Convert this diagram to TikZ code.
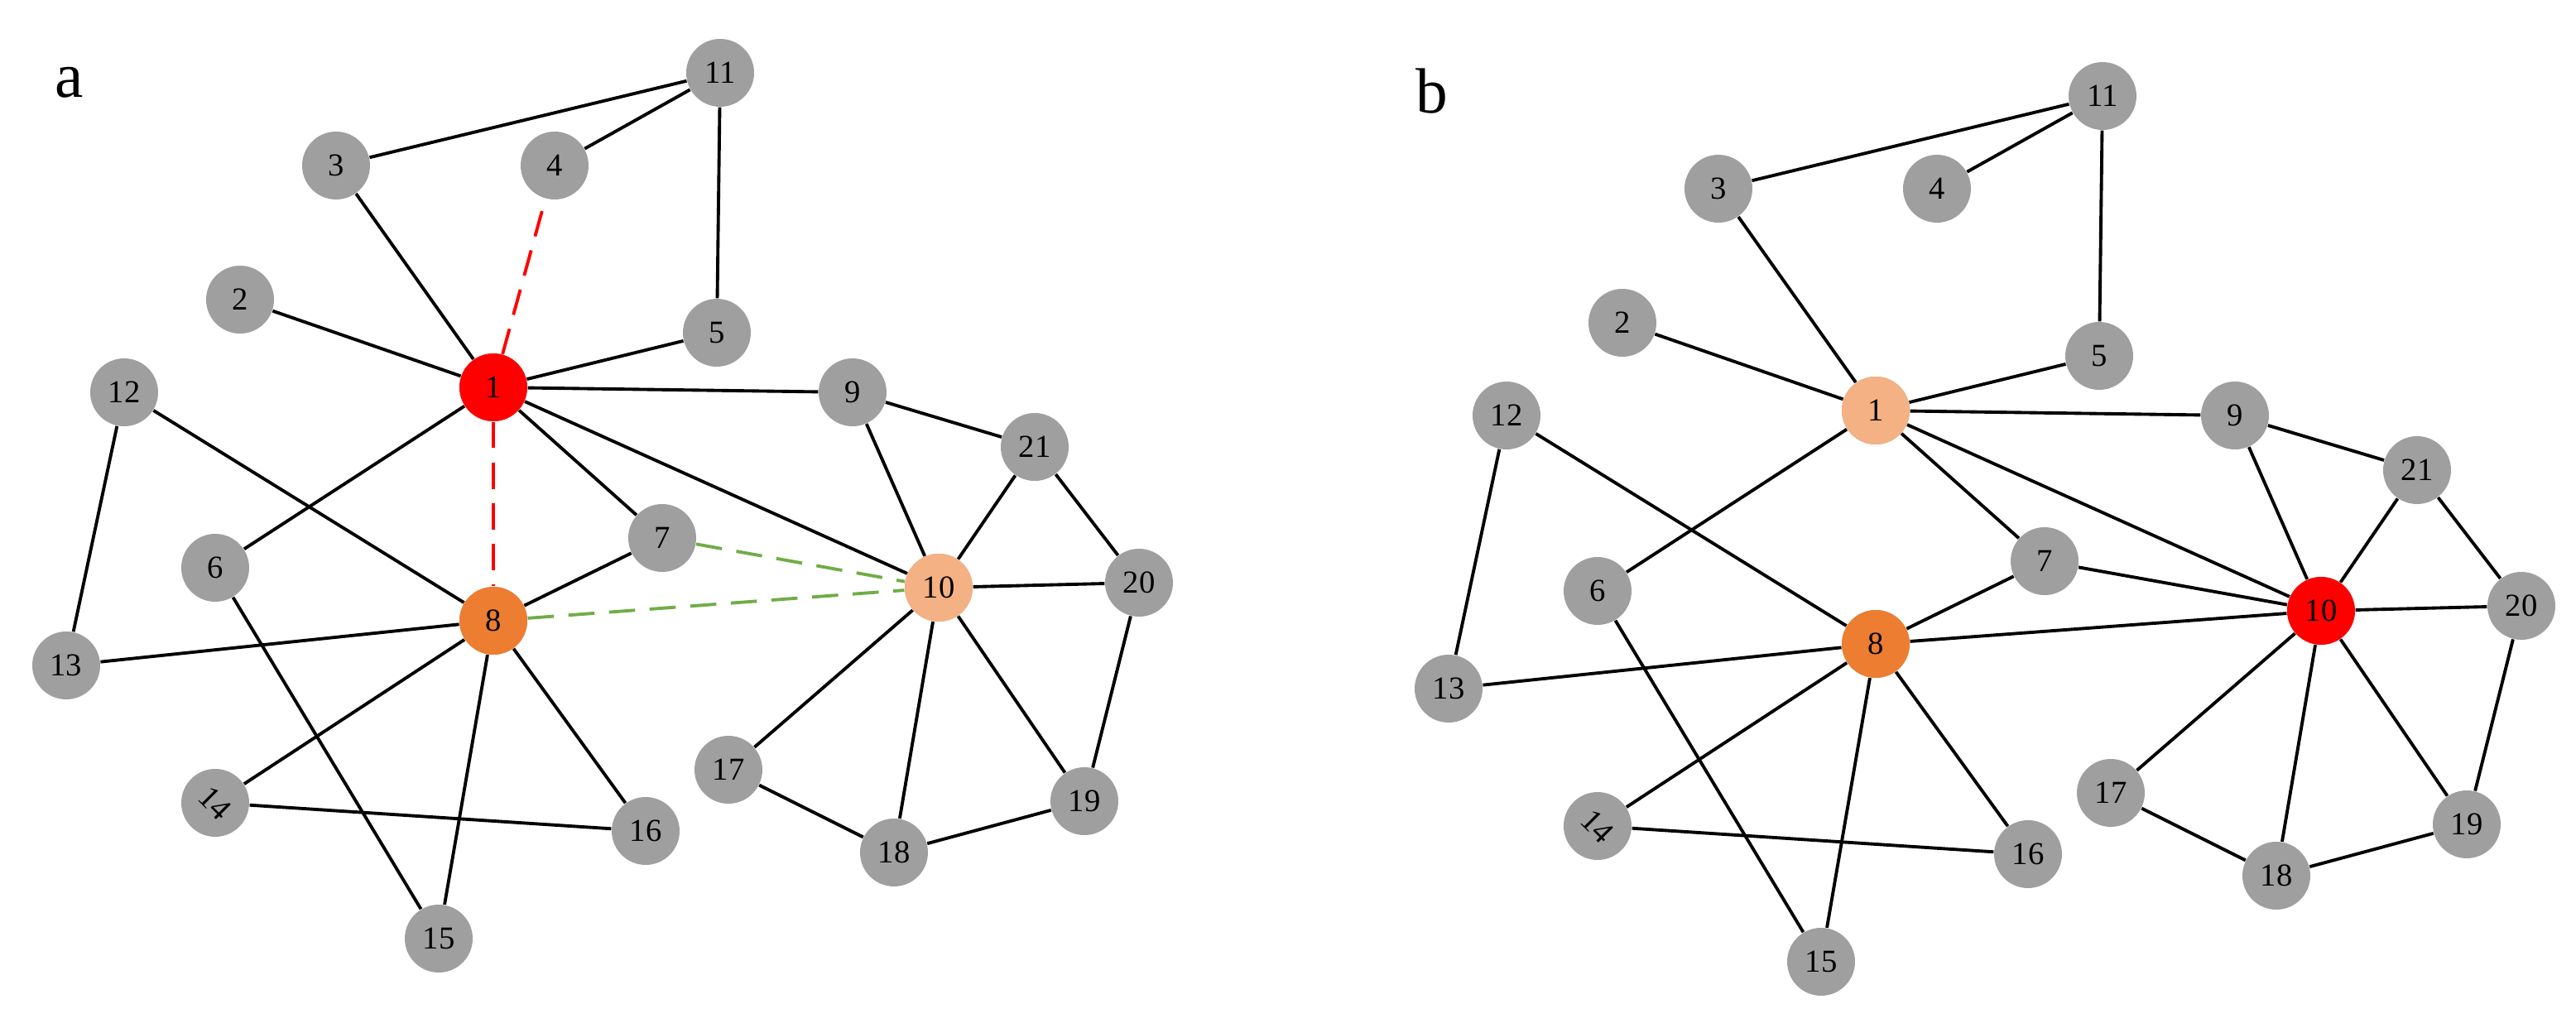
\documentclass[tikz,border=0pt]{standalone}
\usepackage{fontspec}
\setmainfont{Liberation Serif}
\begin{document}
\begin{tikzpicture}[x=0.02cm,y=-0.02cm,
  nd/.style={circle,fill=gray!75,minimum size=0.82cm,inner sep=0pt,font=\fontsize{11}{13}\selectfont},
  ed/.style={line width=1.1pt},
  rd/.style={line width=1.1pt,red,dash pattern=on 9pt off 5pt},
  gd/.style={line width=1.1pt,green!50!black!60!lime,dash pattern=on 9pt off 5pt}]
\useasboundingbox (0,0) rectangle (1556,618);
\definecolor{myorange}{HTML}{ED7D31}
\definecolor{mylight}{HTML}{F4B183}
\definecolor{mygreen}{HTML}{70AD47}
\tikzset{gd/.style={line width=1.1pt,mygreen,dash pattern=on 9pt off 5pt}}
\node[font=\fontsize{22}{24}\selectfont] at (42,50) {a};
\node[font=\fontsize{22}{24}\selectfont] at (865,55) {b};
\foreach \p/\dx/\dy in {a/0/0,b/835/14}{
  \begin{scope}[shift={(\dx,\dy)}]
  \foreach \n/\x/\y in {11/435/44,3/203/100,4/335/100,2/145/181,5/433/201,1/298/234,12/75/237,9/515/237,21/625/270,7/400/325,6/130/343,10/567/355,20/688/352,8/298/375,13/40/402,17/440/465,19/655/484,16/390/502,18/540/515,15/265/567}
    \node[nd] (\p\n) at (\x,\y) {\n};
  \node[nd] (\p14) at (130,485) {\rotatebox{-45}{14}};
  \end{scope}
}
\node[nd,fill=red] at (a1) {1};
\node[nd,fill=myorange] at (a8) {8};
\node[nd,fill=mylight] at (a10) {10};
\node[nd,fill=mylight] at (b1) {1};
\node[nd,fill=myorange] at (b8) {8};
\node[nd,fill=red] at (b10) {10};
\begin{scope}[on background layer/.style={}]
\end{scope}
\foreach \p in {a,b}{
  \foreach \u/\v in {11/3,11/4,11/5,3/1,2/1,5/1,1/9,1/10,1/7,1/6,12/8,12/13,13/8,7/8,8/14,8/15,8/16,6/15,14/16,9/10,9/21,21/10,21/20,10/20,10/17,10/18,10/19,20/19,17/18,18/19}
    \draw[ed] (\p\u) -- (\p\v);
}
\draw[ed] (b7) -- (b10);
\draw[ed] (b8) -- (b10);
\draw[rd] (a1) -- (a4);
\draw[rd] (a1) -- (a8);
\draw[gd] (a7) -- (a10);
\draw[gd] (a8) -- (a10);
\end{tikzpicture}
\end{document}
